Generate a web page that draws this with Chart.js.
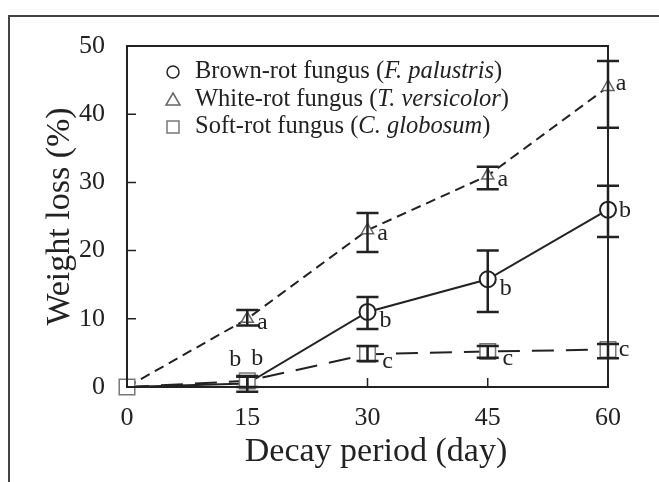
<!DOCTYPE html>
<html>
<head>
<meta charset="utf-8">
<script src="https://cdn.jsdelivr.net/npm/chart.js@4.4.1/dist/chart.umd.min.js"></script>
<style>
  body { margin: 0; background: #fff; }
  canvas { display: block; }
</style>
</head>
<body>
<canvas id="myChart" width="659" height="482"></canvas>
<script>
// Data
const days = [0, 15, 30, 45, 60];
const xTicks = [0, 15, 30, 45, 60];
const yTicks = [0, 10, 20, 30, 40, 50];

const brown = [0, 0.5, 11, 15.8, 26];
const brownLow = [0, -0.7, 8.5, 11, 22];
const brownHigh = [0, 1.6, 13.2, 20, 29.5];
const brownLetters = ['', 'b', 'b', 'b', 'b'];

const white = [0, 10, 23, 31, 44];
const whiteLow = [0, 9, 19.8, 29, 38];
const whiteHigh = [0, 11.3, 25.5, 32.3, 47.8];
const whiteLetters = ['', 'a', 'a', 'a', 'a'];

const soft = [0, 0.9, 4.8, 5.2, 5.5];
const softLow = [0, 0, 3.8, 4.3, 4.2];
const softHigh = [0, 1.5, 6, 6, 6.3];
const softLetters = ['', 'b', 'c', 'c', 'c'];

const legendNames = ['Brown-rot fungus', 'White-rot fungus', 'Soft-rot fungus'];
const legendSpecies = ['F. palustris', 'T. versicolor', 'C. globosum'];

const serif = '"Liberation Serif", "Times New Roman", serif';
const ink = '#222';

function pts(values) {
    return days.map((d, i) => ({ x: d, y: values[i] }));
}

// error bars + significance letters
const errorBars = {
    id: 'errorBars',
    afterDatasetsDraw(chart) {
        const ctx = chart.ctx;
        const xs = chart.scales.x, ys = chart.scales.y;
        ctx.save();
        chart.data.datasets.forEach((ds, di) => {
            ds.low.forEach((lo, i) => {
                if (i === 0) return;
                const x = xs.getPixelForValue(days[i]);
                const y1 = ys.getPixelForValue(lo);
                const y2 = ys.getPixelForValue(ds.high[i]);
                ctx.strokeStyle = ink;
                ctx.lineWidth = 2.5;
                ctx.beginPath();
                ctx.moveTo(x, y1); ctx.lineTo(x, y2);
                ctx.moveTo(x - 11, y1); ctx.lineTo(x + 11, y1);
                ctx.moveTo(x - 11, y2); ctx.lineTo(x + 11, y2);
                ctx.stroke();
            });
            ds.letters.forEach((t, i) => {
                if (!t) return;
                const x = xs.getPixelForValue(days[i]);
                const y = ys.getPixelForValue(ds.data[i].y);
                const off = (ds.letterOffset[i] || ds.letterOffset.def);
                ctx.fillStyle = ink;
                ctx.font = '24px ' + serif;
                ctx.textAlign = 'center';
                ctx.textBaseline = 'middle';
                ctx.fillText(t, x + off[0], y + off[1]);
            });
        });
        ctx.restore();
    }
};

// frame, inward ticks, legend
const frame = {
    id: 'frame',
    beforeDraw(chart) {
        const ctx = chart.ctx;
        ctx.save();
        ctx.strokeStyle = '#444';
        ctx.lineWidth = 2;
        ctx.beginPath();
        ctx.moveTo(9, 482); ctx.lineTo(9, 16); ctx.lineTo(659, 16);
        ctx.stroke();
        ctx.restore();
    },
    afterDraw(chart) {
        const ctx = chart.ctx;
        const a = chart.chartArea;
        const xs = chart.scales.x, ys = chart.scales.y;
        ctx.save();
        ctx.strokeStyle = ink;
        ctx.lineWidth = 2;
        ctx.strokeRect(a.left, a.top, a.right - a.left, a.bottom - a.top);
        ctx.beginPath();
        yTicks.forEach(v => {
            const y = ys.getPixelForValue(v);
            ctx.moveTo(a.left, y); ctx.lineTo(a.left + 9, y);
        });
        xTicks.forEach(v => {
            const x = xs.getPixelForValue(v);
            ctx.moveTo(x, a.bottom); ctx.lineTo(x, a.bottom - 9);
        });
        ctx.lineWidth = 1.5;
        ctx.stroke();

        // legend
        const lx = 173, ly = [72, 100, 127];
        chart.data.datasets.forEach((ds, i) => {
            const y = ly[i];
            ctx.strokeStyle = ds.pointBorderColor;
            ctx.fillStyle = '#fff';
            ctx.lineWidth = 1.5;
            ctx.beginPath();
            if (ds.pointStyle === 'circle') {
                ctx.arc(lx, y, 6, 0, Math.PI * 2);
            } else if (ds.pointStyle === 'triangle') {
                ctx.moveTo(lx, y - 7); ctx.lineTo(lx + 7, y + 5); ctx.lineTo(lx - 7, y + 5); ctx.closePath();
            } else {
                ctx.rect(lx - 6, y - 6, 12, 12);
            }
            ctx.fill(); ctx.stroke();

            let x = 195;
            ctx.fillStyle = ink;
            ctx.textAlign = 'left';
            ctx.textBaseline = 'middle';
            const parts = [
                [legendNames[i] + ' (', '24.5px ' + serif],
                [legendSpecies[i], 'italic 24.5px ' + serif],
                [')', '24.5px ' + serif]
            ];
            parts.forEach(p => {
                ctx.font = p[1];
                ctx.fillText(p[0], x, y);
                x += ctx.measureText(p[0]).width;
            });
        });
        ctx.restore();
    }
};

const ctx = document.getElementById('myChart').getContext('2d');

new Chart(ctx, {
    type: 'line',
    data: {
        datasets: [{
            label: 'Brown-rot fungus (F. palustris)',
            data: pts(brown),
            low: brownLow, high: brownHigh, letters: brownLetters,
            letterOffset: { def: [18, 9], 1: [-12, -24], 4: [17, 1] },
            borderColor: ink,
            borderWidth: 2,
            pointStyle: 'circle',
            pointRadius: [0, 5, 8, 8, 8],
            pointBorderColor: ink,
            pointBackgroundColor: '#fff',
            pointBorderWidth: 2,
            order: 2
        }, {
            label: 'White-rot fungus (T. versicolor)',
            data: pts(white),
            low: whiteLow, high: whiteHigh, letters: whiteLetters,
            letterOffset: { def: [15, 4], 4: [13, -3] },
            borderColor: ink,
            borderWidth: 2,
            borderDash: [10, 6],
            pointStyle: 'triangle',
            pointRadius: [0, 7, 7, 7, 7],
            pointBorderColor: '#666',
            pointBackgroundColor: '#fff',
            pointBorderWidth: 1.5,
            order: 3
        }, {
            label: 'Soft-rot fungus (C. globosum)',
            data: pts(soft),
            low: softLow, high: softHigh, letters: softLetters,
            letterOffset: { def: [20, 7], 1: [10, -22], 4: [16, 0] },
            borderColor: ink,
            borderWidth: 2,
            borderDash: [22, 12],
            pointStyle: 'rect',
            pointRadius: 11,
            pointBorderColor: '#777',
            pointBackgroundColor: '#fff',
            pointBorderWidth: 1.5,
            order: 1
        }]
    },
    options: {
        responsive: false,
        animation: false,
        clip: false,
        layout: { padding: { top: 46, right: 51, left: 0, bottom: 0 } },
        plugins: {
            legend: { display: false },
            tooltip: { enabled: false }
        },
        scales: {
            x: {
                type: 'linear',
                min: 0, max: 60,
                afterFit: s => { s.height = 95; },
                afterBuildTicks: s => { s.ticks = xTicks.map(v => ({ value: v })); },
                grid: { display: false },
                border: { display: false },
                ticks: { color: ink, padding: 8, font: { family: serif, size: 26 } },
                title: {
                    display: true,
                    text: '  Decay period (day)',
                    color: ink,
                    font: { family: serif, size: 34 },
                    padding: { bottom: 10 }
                }
            },
            y: {
                min: 0, max: 50,
                afterFit: s => { s.width = 127; },
                afterBuildTicks: s => { s.ticks = yTicks.map(v => ({ value: v })); },
                grid: { display: false },
                border: { display: false },
                ticks: { color: ink, padding: 14, font: { family: serif, size: 26 } },
                title: {
                    display: true,
                    text: 'Weight loss (%)',
                    color: ink,
                    font: { family: serif, size: 34 },
                    padding: { top: 40 }
                }
            }
        }
    },
    plugins: [frame, errorBars]
});
</script>
</body>
</html>
